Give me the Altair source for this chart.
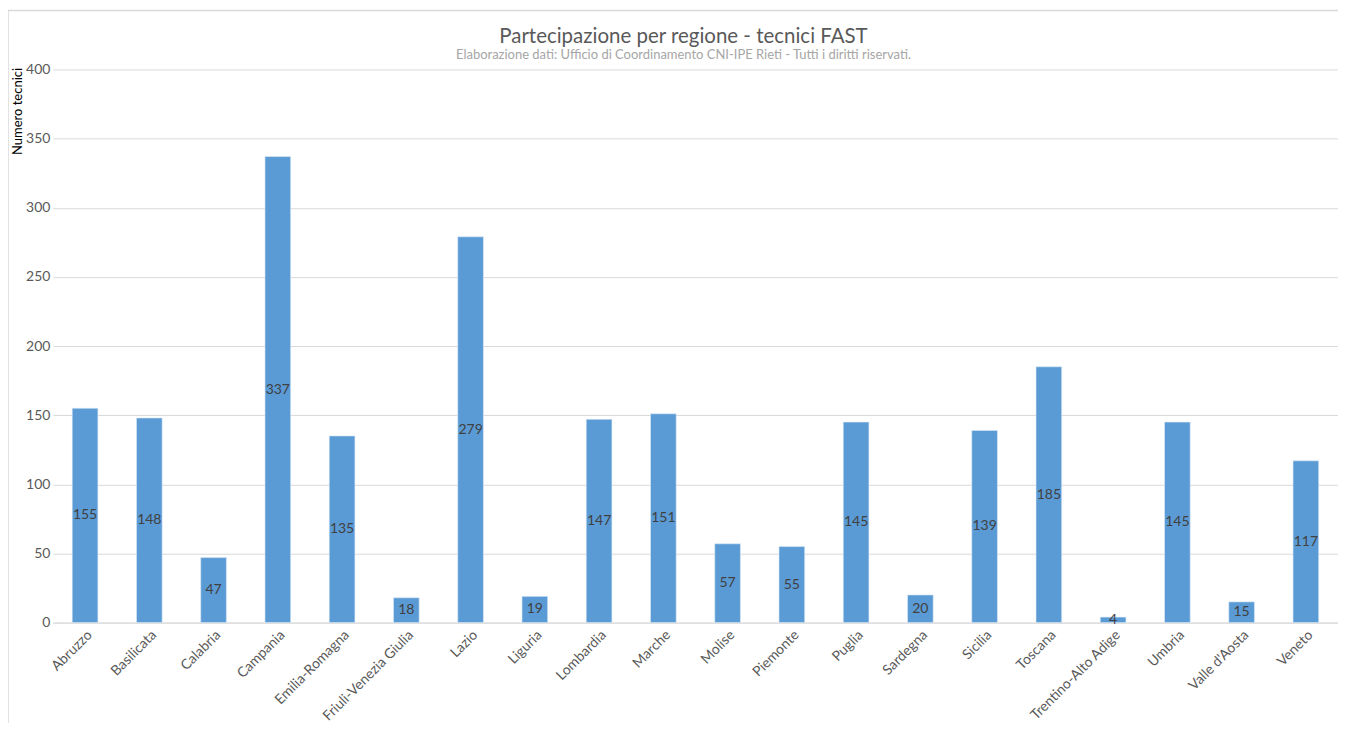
import altair as alt
import pandas as pd

regions = ["Abruzzo", "Basilicata", "Calabria", "Campania", "Emilia-Romagna",
           "Friuli-Venezia Giulia", "Lazio", "Liguria", "Lombardia", "Marche",
           "Molise", "Piemonte", "Puglia", "Sardegna", "Sicilia", "Toscana",
           "Trentino-Alto Adige", "Umbria", "Valle d'Aosta", "Veneto"]
values = [155, 148, 47, 337, 135, 18, 279, 19, 147, 151,
          57, 55, 145, 20, 139, 185, 4, 145, 15, 117]
y_ticks = [0, 50, 100, 150, 200, 250, 300, 350, 400]

df = pd.DataFrame({"Regione": regions, "Tecnici": values})

FONT = "Lato"

x_enc = alt.X("Regione:N", sort=regions, title=None,
              scale=alt.Scale(paddingInner=0.6, paddingOuter=0.3),
              axis=alt.Axis(labelAngle=-45, labelFontSize=14, labelColor="#595959",
                            labelFont=FONT, ticks=False, domainColor="#D9D9D9",
                            labelPadding=5, labelOverlap=False))

frame = alt.Chart(pd.DataFrame({"a": [0]})).mark_rect(
    fill=None, stroke="#D9D9D9", strokeWidth=1.5
).encode(x=alt.value(-45), x2=alt.value(1320), y=alt.value(-59), y2=alt.value(720))

bars = alt.Chart(df).mark_bar(color="#5B9BD5", stroke="#DEEBF7", strokeWidth=0.6).encode(
    x=x_enc,
    y=alt.Y("Tecnici:Q", title="Numero tecnici",
            scale=alt.Scale(domain=[0, 400], nice=False),
            axis=alt.Axis(values=y_ticks, labelFontSize=14, labelColor="#595959",
                          labelFont=FONT, ticks=False, domain=False, gridColor="#D9D9D9",
                          labelPadding=3, titleFont=FONT, titleFontSize=13,
                          titleFontWeight="normal", titleColor="#000000",
                          titleAngle=-90, titleAnchor="end", titleX=-35, titleY=-2,
                          titleAlign="right", titleBaseline="middle"))
)

labels = alt.Chart(df).transform_calculate(mid="datum.Tecnici / 2").mark_text(
    fontSize=14, color="#404040", font=FONT, baseline="middle"
).encode(
    x=alt.X("Regione:N", sort=regions),
    y=alt.Y("mid:Q"),
    text=alt.Text("Tecnici:Q")
)

chart = alt.layer(frame, bars, labels).properties(
    width=1287, height=554,
    title=alt.TitleParams(
        text="Partecipazione per regione - tecnici FAST",
        subtitle="Elaborazione dati: Ufficio di Coordinamento CNI-IPE Rieti - Tutti i diritti riservati.",
        fontSize=20.5, font=FONT, fontWeight="normal", color="#595959",
        subtitleFontSize=13, subtitleFont=FONT, subtitleColor="#A6A6A6",
        subtitlePadding=1, anchor="middle", frame="group", dx=-12, offset=-52
    ),
    autosize=alt.AutoSizeParams(type="none"),
    padding={"left": 45, "top": 61, "right": 0, "bottom": 100}
).configure_view(stroke=None)

chart.save("out.html", embed_options={"renderer": "svg", "actions": False})
